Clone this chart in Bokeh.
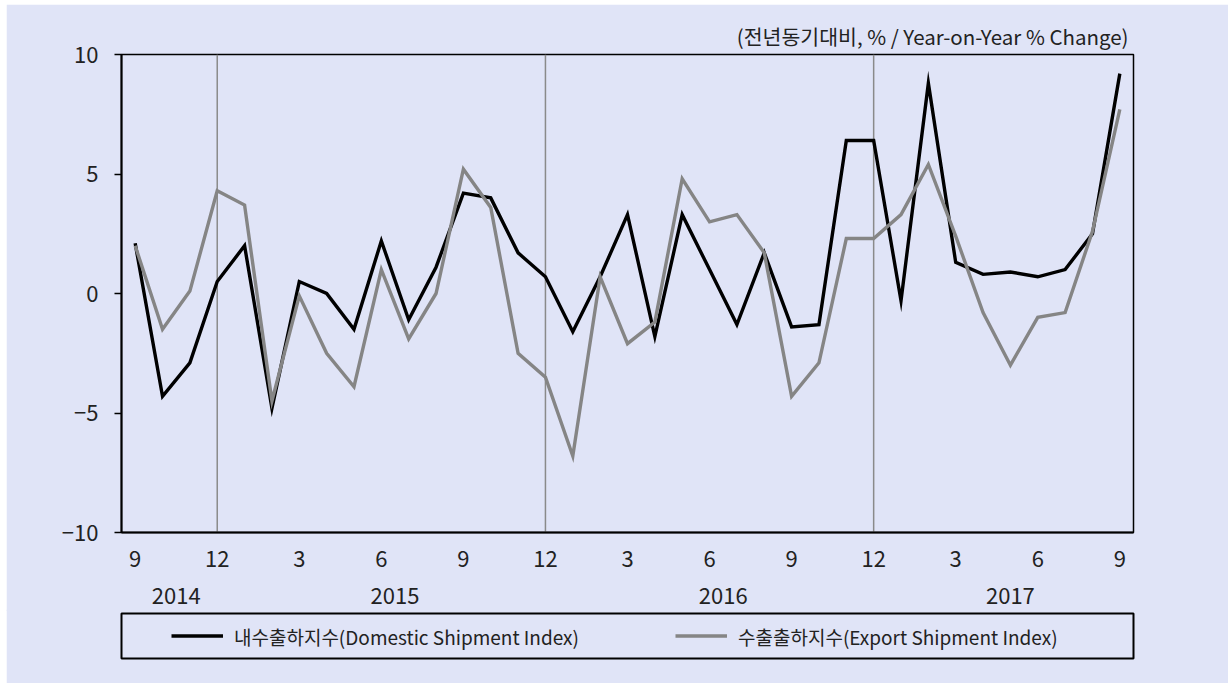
from bokeh.plotting import figure
from bokeh.layouts import column
from bokeh.models import (FixedTicker, LinearAxis, Range1d, Legend, LegendItem, Span, Title)
from bokeh.embed import file_html
from bokeh.resources import INLINE

# ---- data ----
years = [2014, 2014, 2014, 2014,
         2015, 2015, 2015, 2015, 2015, 2015, 2015, 2015, 2015, 2015, 2015, 2015,
         2016, 2016, 2016, 2016, 2016, 2016, 2016, 2016, 2016, 2016, 2016, 2016,
         2017, 2017, 2017, 2017, 2017, 2017, 2017, 2017, 2017]
months = [9, 10, 11, 12,
          1, 2, 3, 4, 5, 6, 7, 8, 9, 10, 11, 12,
          1, 2, 3, 4, 5, 6, 7, 8, 9, 10, 11, 12,
          1, 2, 3, 4, 5, 6, 7, 8, 9]
domestic = [2.1, -4.3, -2.9, 0.5, 2.0, -4.8, 0.5, 0.0, -1.5, 2.2, -1.1, 1.1,
            4.2, 4.0, 1.7, 0.7, -1.6, 0.7, 3.3, -1.8, 3.3, 1.0, -1.3, 1.7,
            -1.4, -1.3, 6.4, 6.4, -0.3, 8.8, 1.3, 0.8, 0.9, 0.7, 1.0, 2.5, 9.2]
export = [2.0, -1.5, 0.1, 4.3, 3.7, -4.5, -0.1, -2.5, -3.9, 1.0, -1.9, 0.0,
          5.2, 3.6, -2.5, -3.5, -6.8, 0.7, -2.1, -1.2, 4.8, 3.0, 3.3, 1.7,
          -4.3, -2.9, 2.3, 2.3, 3.3, 5.4, 2.4, -0.8, -3.0, -1.0, -0.8, 2.6, 7.7]
month_ticks = [9, 12, 3, 6]
y_ticks = [-10, -5, 0, 5, 10]
unit_text = "(전년동기대비, % / Year-on-Year % Change)"
dom_label = "내수출하지수(Domestic Shipment Index)"
exp_label = "수출출하지수(Export Shipment Index)"

BG = "#E0E4F7"
FONT = "Noto Sans CJK KR"
TXT = "#222222"
DOM_COLOR = "black"
EXP_COLOR = "#858585"

idx = list(range(len(months)))

p = figure(width=1222, height=607, x_range=Range1d(-0.5, len(idx) - 0.5),
           y_range=Range1d(-10, 10), output_backend="svg", toolbar_location=None,
           min_border_left=115, min_border_right=95, min_border_top=50,
           min_border_bottom=79, margin=(4, 0, 0, 6))
p.background_fill_color = BG
p.border_fill_color = BG
p.outline_line_color = "black"
p.outline_line_width = 1.5
p.xgrid.visible = False
p.ygrid.visible = False

# title (unit note)
t = Title(text=unit_text, align="right", text_font=FONT, text_font_size="20.5px",
          text_font_style="normal", text_color=TXT, standoff=7, offset=5)
p.add_layout(t, "above")

# December separators
for i, m in zip(idx, months):
    if m == 12:
        p.add_layout(Span(location=i, dimension="height", line_color="#8a8a8a",
                          line_width=1.5, level="underlay"))

r1 = p.line(idx, domestic, line_color=DOM_COLOR, line_width=3.4, line_join="miter")
r2 = p.line(idx, export, line_color=EXP_COLOR, line_width=3.4, line_join="miter")

# y axis
ya = p.yaxis[0]
ya.ticker = FixedTicker(ticks=y_ticks)
ya.major_label_overrides = {v: ("\u2212" + str(-v) if v < 0 else str(v)) for v in y_ticks}
ya.major_tick_out = 7
ya.major_tick_in = 0
ya.minor_tick_out = 0
ya.minor_tick_in = 0
ya.axis_line_width = 2
ya.major_tick_line_width = 1.5
ya.major_label_text_font = FONT
ya.major_label_text_font_size = "22px"
ya.major_label_text_color = TXT
ya.major_label_standoff = 16

# month axis
xa = p.xaxis[0]
tick_pos = [i for i, m in zip(idx, months) if m in month_ticks]
xa.ticker = FixedTicker(ticks=tick_pos)
xa.major_label_overrides = {i: str(months[i]) for i in tick_pos}
xa.major_tick_out = 0
xa.major_tick_in = 0
xa.minor_tick_out = 0
xa.minor_tick_in = 0
xa.axis_line_width = 2
xa.major_label_text_font = FONT
xa.major_label_text_font_size = "22px"
xa.major_label_text_color = TXT
xa.major_label_standoff = 18

# year axis
uniq_years = []
for y in years:
    if y not in uniq_years:
        uniq_years.append(y)
centers = []
for y in uniq_years:
    ii = [i for i, yy in zip(idx, years) if yy == y]
    centers.append((min(ii) + max(ii)) / 2)
ya2 = LinearAxis(ticker=FixedTicker(ticks=centers),
                 major_label_overrides={c: str(y) for c, y in zip(centers, uniq_years)},
                 axis_line_color=None, major_tick_out=0, major_tick_in=0,
                 minor_tick_out=0, minor_tick_in=0,
                 major_label_text_font=FONT, major_label_text_font_size="22px",
                 major_label_text_color=TXT, major_label_standoff=18)
p.add_layout(ya2, "below")

# ---- legend strip (a figure whose frame is the legend box) ----
# series are drawn through this strip's scales but fall outside its visible range,
# so only the legend samples show
lg = figure(width=1222, height=74, x_range=Range1d(1000, 1001), y_range=Range1d(0, 1),
            output_backend="svg", toolbar_location=None,
            x_axis_type=None, y_axis_type=None,
            min_border_left=115, min_border_right=95, min_border_top=4,
            min_border_bottom=25, margin=(-2, 0, 0, 6))
lg.background_fill_color = BG
lg.border_fill_color = BG
lg.outline_line_color = "black"
lg.outline_line_width = 2
lg.xgrid.visible = False
lg.ygrid.visible = False
l1 = lg.line(idx, domestic, line_color=DOM_COLOR, line_width=3.4)
l2 = lg.line(idx, export, line_color=EXP_COLOR, line_width=3.4)
legend = Legend(items=[LegendItem(label=dom_label, renderers=[l1]),
                       LegendItem(label=exp_label, renderers=[l2])],
                orientation="horizontal", location="center",
                border_line_color=None, background_fill_alpha=0.0,
                label_text_font=FONT, label_text_font_size="19px",
                label_text_color=TXT, glyph_width=52, glyph_height=20,
                label_standoff=11, label_width=345, spacing=96, padding=0,
                margin=0)
lg.add_layout(legend, "center")

layout = column(p, lg, spacing=0)
open("out.html", "w").write(file_html(layout, INLINE))
